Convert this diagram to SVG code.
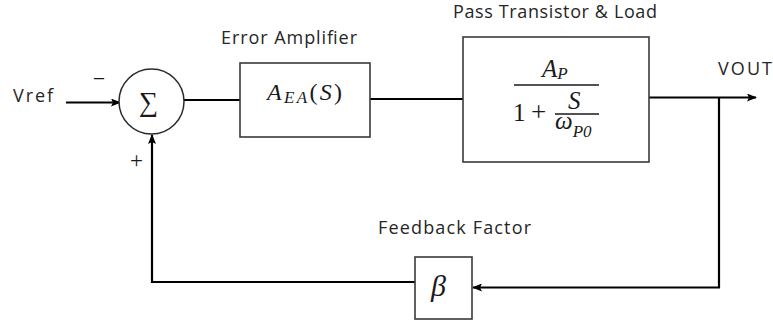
<svg xmlns="http://www.w3.org/2000/svg" width="773" height="321" viewBox="0 0 773 321">
<style>
.lbl{font-family:"Open Sans","Liberation Sans",sans-serif;font-size:18px;fill:#262626}
.math{font-family:"Liberation Serif","DejaVu Serif",serif;font-style:italic;fill:#1a1a1a}
.up{font-family:"Liberation Serif","DejaVu Serif",serif;fill:#1a1a1a}
.box{fill:#fff;stroke:#3a3a3a;stroke-width:1.6}
.wire{fill:none;stroke:#000;stroke-width:2.2}
.bar{stroke:#1a1a1a;stroke-width:1.4}
</style>
<defs>
<marker id="arr" markerUnits="userSpaceOnUse" markerWidth="10" markerHeight="8" refX="9" refY="4" orient="auto">
<path d="M0,0 L10,4 L0,8 L2,4 Z" fill="#000"/>
</marker>
</defs>
<rect width="773" height="321" fill="#fff"/>
<g id="connectors">
<line class="wire" x1="66" y1="102.5" x2="120" y2="102.5" marker-end="url(#arr)"/>
<line class="wire" x1="184" y1="100" x2="240" y2="100"/>
<line class="wire" x1="370" y1="99" x2="463" y2="99"/>
<line class="wire" x1="649" y1="97.5" x2="756" y2="97.5" marker-end="url(#arr)"/>
<polyline class="wire" points="719,97.5 719,287.5 473,287.5" marker-end="url(#arr)"/>
<polyline class="wire" points="415,282 152,282 152,135" marker-end="url(#arr)"/>
</g>
<g id="vref"><text class="lbl" x="13" y="102" textLength="40">Vref</text></g>
<g id="signs">
<text class="up" x="99" y="86" style="font-size:22px" text-anchor="middle">−</text>
<text class="up" x="136.5" y="168" style="font-size:23px" text-anchor="middle">+</text>
</g>
<g id="sum">
<circle cx="151.5" cy="101.5" r="32.5" fill="#fff" stroke="#2a2a2a" stroke-width="1.5"/>
<text class="up" x="148.5" y="111" font-size="27" text-anchor="middle">∑</text>
</g>
<g id="error-amplifier">
<text class="lbl" x="221" y="44" textLength="136">Error Amplifier</text>
<rect class="box" x="240" y="63" width="130" height="74"/>
<text class="math" x="267" y="100" font-size="24" textLength="75">A<tspan font-size="17" dy="3">EA</tspan><tspan dy="-3" font-style="normal">(</tspan>S<tspan font-style="normal">)</tspan></text>
</g>
<g id="pass-transistor">
<text class="lbl" x="453" y="18" textLength="204">Pass Transistor &amp; Load</text>
<rect class="box" x="463" y="37" width="186" height="125"/>
<text class="math" x="542" y="77" font-size="25">A<tspan font-size="17" dy="2">P</tspan></text>
<line class="bar" x1="514" y1="85" x2="599" y2="85"/>
<text class="up" x="513" y="121" font-size="25">1</text>
<text class="up" x="531" y="121" font-size="27">+</text>
<text class="math" x="568" y="109" font-size="25">S</text>
<line class="bar" x1="555" y1="114" x2="599" y2="114"/>
<text class="math" x="555" y="129" font-size="25">ω<tspan font-size="17" dy="8">P0</tspan></text>
</g>
<g id="vout"><text class="lbl" x="718" y="75" textLength="54">VOUT</text></g>
<g id="feedback">
<text class="lbl" x="378" y="234" textLength="153">Feedback Factor</text>
<rect class="box" x="415" y="257" width="57" height="62"/>
<text class="math" x="431" y="296" font-size="30">β</text>
</g>
</svg>
